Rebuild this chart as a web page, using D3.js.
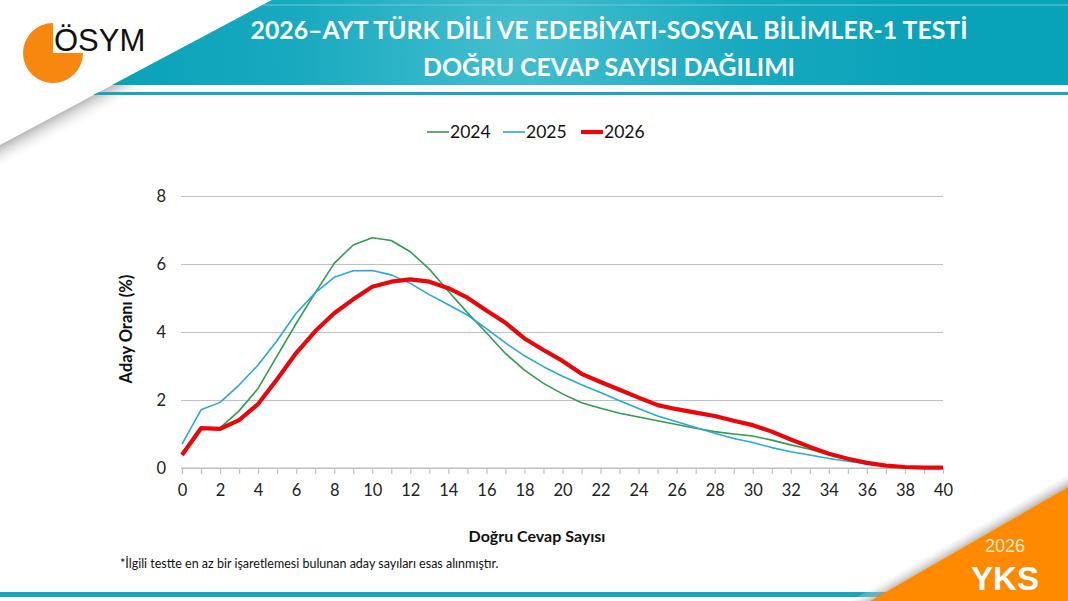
<!DOCTYPE html>
<html>
<head>
<meta charset="utf-8">
<script src="https://cdn.jsdelivr.net/npm/d3@7"></script>
<style>
  body { margin: 0; background: #fff; }
  svg { display: block; font-family: Lato, "Open Sans", sans-serif; }
</style>
</head>
<body>
<div id="chart"></div>
<script>
// data (Aday Oranı % per number of correct answers)
const answers = [0,1,2,3,4,5,6,7,8,9,10,11,12,13,14,15,16,17,18,19,20,21,22,23,24,25,26,27,28,29,30,31,32,33,34,35,36,37,38,39,40];
const values2024 = [0.45,1.17,1.18,1.68,2.34,3.3,4.25,5.15,6.02,6.56,6.77,6.69,6.36,5.85,5.2,4.57,3.98,3.37,2.88,2.49,2.18,1.92,1.76,1.61,1.5,1.39,1.28,1.17,1.07,1.0,0.94,0.82,0.68,0.55,0.4,0.26,0.15,0.07,0.03,0.01,0.0];
const values2025 = [0.70,1.71,1.93,2.44,3.03,3.75,4.55,5.15,5.61,5.80,5.81,5.68,5.43,5.1,4.8,4.5,4.1,3.68,3.3,2.98,2.7,2.45,2.22,1.98,1.75,1.53,1.36,1.19,1.02,0.87,0.75,0.6,0.48,0.38,0.28,0.2,0.12,0.06,0.02,0.01,0.0];
const values2026 = [0.38,1.17,1.15,1.41,1.88,2.61,3.38,4.02,4.55,4.96,5.33,5.48,5.55,5.48,5.29,5.01,4.63,4.27,3.81,3.47,3.15,2.77,2.53,2.3,2.07,1.85,1.73,1.63,1.53,1.39,1.26,1.07,0.84,0.62,0.42,0.27,0.15,0.07,0.03,0.01,0.01];
const seriesNames = ["2024", "2025", "2026"];
const xTickLabels = [0,2,4,6,8,10,12,14,16,18,20,22,24,26,28,30,32,34,36,38,40];
const yTickLabels = [0,2,4,6,8];

const series = [
  {name: seriesNames[0], values: values2024, color: "#2e9e50", width: 1.6},
  {name: seriesNames[1], values: values2025, color: "#2aa8d6", width: 1.6},
  {name: seriesNames[2], values: values2026, color: "#e8080c", width: 4.2}
];

const width = 1068, height = 601;

const svg = d3.select("#chart").append("svg")
  .attr("width", width)
  .attr("height", height);

const defs = svg.append("defs");

// header gradient
const hg = defs.append("radialGradient").attr("id", "headGrad")
  .attr("gradientUnits", "userSpaceOnUse")
  .attr("cx", 520).attr("cy", 45).attr("r", 420);
hg.append("stop").attr("offset", 0).attr("stop-color", "#46bfd0");
hg.append("stop").attr("offset", 0.55).attr("stop-color", "#17a9bf");
hg.append("stop").attr("offset", 1).attr("stop-color", "#08a2b9");

// shadow under the white corner flap
const sg = defs.append("linearGradient").attr("id", "flapShadow")
  .attr("gradientUnits", "userSpaceOnUse")
  .attr("x1", 136).attr("y1", 72.5).attr("x2", 146).attr("y2", 91);
sg.append("stop").attr("offset", 0).attr("stop-color", "#b0b0b0").attr("stop-opacity", 0.85);
sg.append("stop").attr("offset", 1).attr("stop-color", "#ffffff").attr("stop-opacity", 0);

const og = defs.append("linearGradient").attr("id", "orangeShadow")
  .attr("gradientUnits", "userSpaceOnUse")
  .attr("x1", 969).attr("y1", 544).attr("x2", 962).attr("y2", 532);
og.append("stop").attr("offset", 0).attr("stop-color", "#a0a0a0").attr("stop-opacity", 0.7);
og.append("stop").attr("offset", 1).attr("stop-color", "#ffffff").attr("stop-opacity", 0);

// header
svg.append("polygon")
  .attr("points", "0,145 272,0 330,0 0,185")
  .attr("fill", "url(#flapShadow)");

svg.append("polygon")
  .attr("points", "272,0 1068,0 1068,85 112,85")
  .attr("fill", "url(#headGrad)");

svg.append("line")
  .attr("x1", 263).attr("y1", 5).attr("x2", 1068).attr("y2", 5)
  .attr("stroke", "#6fcbd9").attr("stroke-width", 1);

svg.append("polygon")
  .attr("points", "99,92 1068,92 1068,95 93,95")
  .attr("fill", "#19a6bc");

// logo
const logo = svg.append("g");
logo.append("circle").attr("cx", 53).attr("cy", 53).attr("r", 30).attr("fill", "#f7870f");
logo.append("rect").attr("x", 53).attr("y", 20).attr("width", 35).attr("height", 33).attr("fill", "#fff");
logo.append("text")
  .attr("x", 54).attr("y", 51)
  .attr("font-family", "Liberation Sans, Arial, sans-serif")
  .attr("font-size", 31)
  .attr("fill", "#111")
  .text("ÖSYM");

// title
const title = svg.append("text")
  .attr("text-anchor", "middle")
  .attr("font-weight", "bold")
  .attr("font-size", 24.8)
  .attr("fill", "#fff");
title.append("tspan").attr("x", 609).attr("y", 39)
  .text("2026–AYT TÜRK DİLİ VE EDEBİYATI-SOSYAL BİLİMLER-1 TESTİ");
title.append("tspan").attr("x", 609).attr("y", 76)
  .text("DOĞRU CEVAP SAYISI DAĞILIMI");

// scales
const xScale = d3.scaleLinear().domain([0, 40]).range([182, 943]);
const yScale = d3.scaleLinear().domain([0, 8]).range([468, 196]);

// gridlines + y axis
const yAxis = d3.axisLeft(yScale)
  .tickValues(yTickLabels)
  .tickSize(-(943 - 181))
  .tickPadding(15);

svg.append("g")
  .attr("transform", "translate(181,0)")
  .call(yAxis)
  .call(g => g.select(".domain").remove())
  .call(g => g.selectAll(".tick line").attr("stroke", "#c0c0c0").attr("stroke-width", 1.2))
  .call(g => g.selectAll(".tick text").attr("font-size", 16.5).attr("fill", "#222").attr("font-family", "Lato, sans-serif"));

// x axis
const xAxis = d3.axisBottom(xScale)
  .tickValues(answers)
  .tickSize(6)
  .tickPadding(10)
  .tickFormat(d => xTickLabels.includes(d) ? d : "");

svg.append("g")
  .attr("transform", "translate(0,468)")
  .call(xAxis)
  .call(g => g.select(".domain").attr("stroke", "#c0c0c0").attr("stroke-width", 1.2).attr("d", "M181,0H943"))
  .call(g => g.selectAll(".tick line").attr("stroke", "#c0c0c0").attr("stroke-width", 1.2))
  .call(g => g.selectAll(".tick text").attr("font-size", 16.5).attr("fill", "#222").attr("font-family", "Lato, sans-serif"));

// lines
const line = d3.line()
  .x((d, i) => xScale(answers[i]))
  .y(d => yScale(d));

svg.selectAll(".series")
  .data(series)
  .enter().append("path")
  .attr("class", "series")
  .attr("fill", "none")
  .attr("stroke", d => d.color)
  .attr("stroke-width", d => d.width)
  .attr("stroke-linejoin", "round")
  .attr("d", d => line(d.values));

// legend
const legendX = [427, 503, 581];
const legend = svg.selectAll(".legend")
  .data(series)
  .enter().append("g")
  .attr("class", "legend")
  .attr("transform", (d, i) => "translate(" + legendX[i] + ",132)");
legend.append("line")
  .attr("x1", 0).attr("x2", 22)
  .attr("stroke", d => d.color)
  .attr("stroke-width", d => d.width);
legend.append("text")
  .attr("x", 23).attr("y", 6)
  .attr("font-size", 17.5)
  .attr("fill", "#111")
  .text(d => d.name);

// axis titles
svg.append("text")
  .attr("transform", "translate(132,329) rotate(-90)")
  .attr("text-anchor", "middle")
  .attr("font-weight", "bold")
  .attr("font-size", 16.5)
  .attr("fill", "#111")
  .text("Aday Oranı (%)");

svg.append("text")
  .attr("x", 537).attr("y", 542)
  .attr("text-anchor", "middle")
  .attr("font-weight", "bold")
  .attr("font-size", 16)
  .attr("fill", "#111")
  .text("Doğru Cevap Sayısı");

// footnote
svg.append("text")
  .attr("x", 120).attr("y", 568)
  .attr("font-size", 12.5)
  .attr("fill", "#111")
  .text("*İlgili testte en az bir işaretlemesi bulunan aday sayıları esas alınmıştır.");

// bottom line and corner
svg.append("rect")
  .attr("x", 0).attr("y", 592).attr("width", 960).attr("height", 5)
  .attr("fill", "#19a6bc");

svg.append("polygon")
  .attr("points", "850,601 1068,475 1068,487 870,601")
  .attr("fill", "url(#orangeShadow)");

svg.append("polygon")
  .attr("points", "870,601 1068,487 1068,601")
  .attr("fill", "#ff8a00");

svg.append("text")
  .attr("x", 1005).attr("y", 552)
  .attr("text-anchor", "middle")
  .attr("font-family", "Liberation Sans, Arial, sans-serif")
  .attr("font-size", 18)
  .attr("fill", "#fde8c8")
  .text("2026");

svg.append("text")
  .attr("x", 1005).attr("y", 590)
  .attr("text-anchor", "middle")
  .attr("font-family", "Liberation Sans, Arial, sans-serif")
  .attr("font-weight", "bold")
  .attr("font-size", 33)
  .attr("fill", "#fff")
  .text("YKS");
</script>
</body>
</html>
